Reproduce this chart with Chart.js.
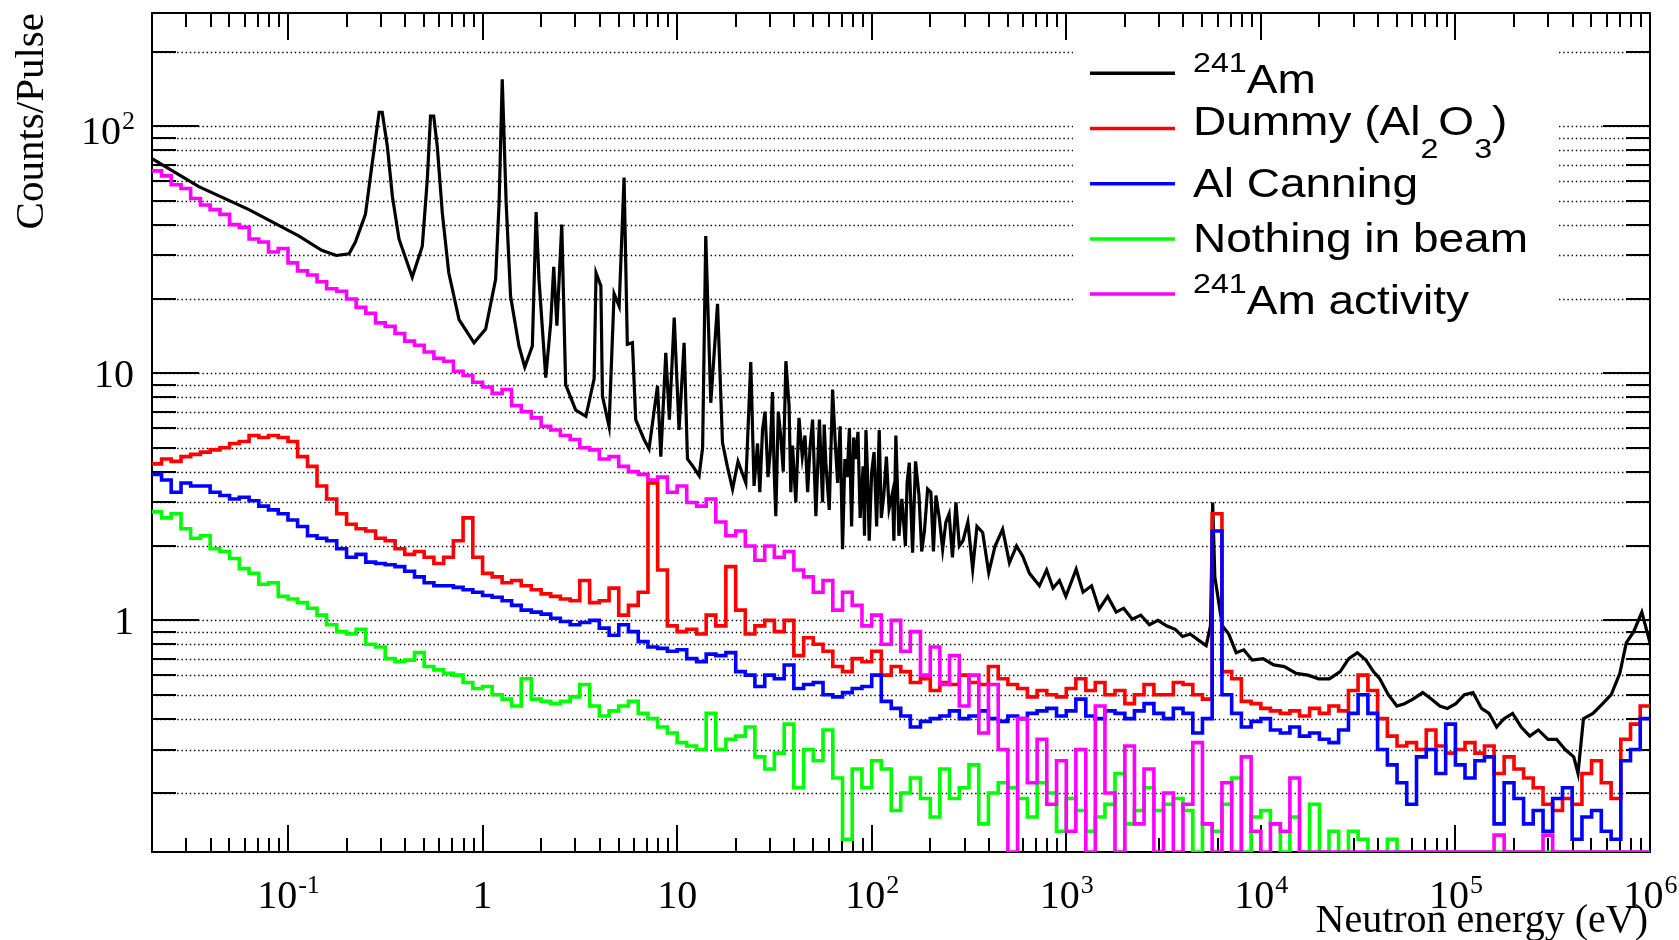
<!DOCTYPE html>
<html>
<head>
<meta charset="utf-8">
<title>Counts/Pulse vs neutron energy</title>
<script src="https://cdn.jsdelivr.net/npm/chart.js@4.4.1/dist/chart.umd.min.js"></script>
<style>
  html, body { margin: 0; padding: 0; background: #ffffff; }
  #wrap { width: 1679px; height: 940px; }
</style>
</head>
<body>
<div id="wrap"><canvas id="chart" width="1679" height="940"></canvas></div>
<script>
// Energy bin edges (eV), 20 per decade, shared by the four noisy histograms
const E_GRID = [
  0.02, 0.0224, 0.0251, 0.0282, 0.0316, 0.0355, 0.0398, 0.0447, 0.0501, 0.0562, 0.0631, 0.0708, 0.0794, 0.0891,
  0.1, 0.112, 0.126, 0.141, 0.158, 0.178, 0.2, 0.224, 0.251, 0.282, 0.316, 0.355, 0.398, 0.447, 0.501, 0.562, 0.631, 0.708, 0.794, 0.891,
  1, 1.12, 1.26, 1.41, 1.58, 1.78, 2, 2.24, 2.51, 2.82, 3.16, 3.55, 3.98, 4.47, 5.01, 5.62, 6.31, 7.08, 7.94, 8.91,
  10, 11.2, 12.6, 14.1, 15.8, 17.8, 20, 22.4, 25.1, 28.2, 31.6, 35.5, 39.8, 44.7, 50.1, 56.2, 63.1, 70.8, 79.4, 89.1,
  100, 112, 126, 141, 158, 178, 200, 224, 251, 282, 316, 355, 398, 447, 501, 562, 631, 708, 794, 891,
  1000, 1120, 1260, 1410, 1580, 1780, 2000, 2240, 2510, 2820, 3160, 3550, 3980, 4470, 5010, 5620, 6310, 7080, 7940, 8910,
  1e4, 11200, 12600, 14100, 15800, 17800, 20000, 22400, 25100, 28200, 31600, 35500, 39800, 44700, 50100, 56200, 63100, 70800, 79400, 89100,
  1e5, 112000, 126000, 141000, 158000, 178000, 200000, 224000, 251000, 282000, 316000, 355000, 398000, 447000, 501000, 562000, 631000, 708000, 794000, 891000,
  1e6
];

// 241Am sample (fine structure, own energy points)
const AM_E = [
  0.0200, 0.0348, 0.0630, 0.1135, 0.149, 0.177, 0.206, 0.222, 0.250, 0.271,
  0.294, 0.305, 0.324, 0.344, 0.372, 0.435, 0.490, 0.520, 0.540, 0.561,
  0.585, 0.621, 0.670, 0.757, 0.904, 1.037, 1.167, 1.216, 1.262, 1.322,
  1.393, 1.538, 1.648, 1.802, 1.884, 1.950, 2.112, 2.240, 2.321, 2.410,
  2.553, 2.673, 3.011, 3.397, 3.744, 3.830, 4.055, 4.131, 4.467, 4.742,
  5.035, 5.336, 5.546, 5.891, 6.124, 6.761, 7.171, 7.925, 8.244, 8.743,
  9.12, 9.66, 10.23, 10.86, 11.30, 12.06, 12.97, 13.52, 14.03, 14.89,
  16.13, 17.10, 18.11, 19.27, 20.55, 22.54,
  23.9, 24.85, 25.9, 26.6, 27.47, 28.3, 29.31, 30.1, 30.9, 31.5,
  32.14, 33.1, 34.12, 35.1, 36.22, 37.6, 38.4, 39.17, 40.74, 42.3,
  43.97, 45.4, 46.84, 48.2, 49.67, 51.65, 53.86, 55.9, 57.0, 58.1,
  60.5, 62.95, 64.8, 66.8, 68.8, 70.8, 72.8, 74.8, 76.8, 78.8,
  80.8, 82.9, 85.0, 87.2, 90.3, 91.8, 93.4, 95.2, 97.1, 100,
  102.8, 106, 109.3, 112, 115.3, 119, 122.8, 128, 130, 133.1,
  138, 142.9, 149, 152, 156.0, 162.2, 168, 175.0, 180.7, 186.6,
  193.8, 201.4, 207.6, 213.9, 222.5, 231.5, 240.5, 249.9, 260, 270.9,
  282, 294.5, 312, 330.3, 347.5, 371.7, 399.4,
  430.7, 470.9, 510.2, 554.9, 597, 646.9, 727.8, 792.5, 855, 922,
  995, 1124, 1219, 1349, 1475, 1632, 1806, 1972, 2183, 2416,
  2674, 2959, 3275, 3630, 3963, 4335, 4797, 5236, 5510, 5654,
  5800, 6339, 6839, 7467, 8166, 9036, 10260, 11640, 13210, 15200,
  17460, 19820, 22500, 25570, 28310, 31330, 34670, 37880, 40830, 45190,
  50020, 54690, 60530, 67920, 75150, 83170, 90840, 100500, 111200, 123100,
  136200, 148900, 162800, 177800, 196800, 217800, 241000, 266700, 299200, 331100,
  366400, 405500, 426600, 455000, 509300, 571200, 632000, 699800, 755100, 824300,
  907800, 1000000
];
const AM_Y = [
  74, 57, 46, 36, 31.5, 30, 30.5, 34, 44, 71,
  114, 114, 83, 52, 35, 24.5, 32.7, 61, 110, 110,
  83, 44.6, 25.6, 16.5, 13.3, 15.1, 24, 49, 155, 49,
  20.5, 12.9, 10.6, 12.9, 45, 24, 9.6, 16, 27, 15.6,
  40, 9, 7.1, 6.7, 9.5, 25.5, 22.6, 8.1, 6.1, 21,
  18.7, 62, 13.1, 13.3, 6.5, 5.4, 4.95, 8.9, 4.6, 12.1,
  6.5, 16.8, 5.9, 13.3, 4.5, 4.2, 3.85, 5, 36, 7.6,
  19.1, 5.25, 4.2, 3.4, 4.4, 3.6,
  11.1, 3.5, 5.2, 3.3, 5.9, 7.0, 3.8, 4.8, 8.4, 4.1,
  2.64, 7.0, 5.5, 4.0, 11.2, 7.4, 3.3, 5.1, 3.0, 6.6,
  4.6, 5.6, 3.3, 5.0, 6.5, 2.64, 6.5, 3.0, 6.2, 4.35,
  2.8, 8.6, 5.4, 3.6, 6.1, 1.94, 4.5, 3.8, 6.0, 2.4,
  5.5, 4.5, 5.8, 2.6, 4.2, 2.2, 5.9, 3.9, 2.1, 4.0,
  4.8, 2.4, 5.9, 2.6, 3.2, 4.6, 2.83, 3.3, 2.1, 5.6,
  2.2, 3.1, 2.0, 3.6, 4.35, 1.88, 4.4, 3.2, 1.9, 2.3,
  3.4, 3.3, 1.9, 3.2, 2.6, 1.94, 2.5, 2.7, 1.8, 3.0,
  2.0, 2.1, 2.5, 1.61, 2.4, 2.27, 1.56,
  2.0, 2.34, 1.71, 2.0, 1.82, 1.55, 1.38, 1.6, 1.35, 1.45,
  1.25, 1.61, 1.3, 1.38, 1.11, 1.25, 1.08, 1.12, 1.01, 1.05,
  0.96, 1.0, 0.95, 0.92, 0.86, 0.88, 0.83, 0.79, 0.95, 3.0,
  1.5, 0.95, 0.88, 0.74, 0.76, 0.69, 0.70, 0.66, 0.65, 0.61,
  0.60, 0.58, 0.58, 0.62, 0.70, 0.74, 0.69, 0.62, 0.58, 0.50,
  0.45, 0.46, 0.48, 0.51, 0.48, 0.45, 0.44, 0.46, 0.50, 0.51,
  0.44, 0.42, 0.37, 0.40, 0.42, 0.37, 0.34, 0.36, 0.33, 0.33,
  0.30, 0.28, 0.24, 0.40, 0.42, 0.46, 0.50, 0.61, 0.81, 0.90,
  1.08, 0.81
];

// Dummy (Al2O3), one value per E_GRID bin (0 = empty bin)
const DUMMY_Y = [
  4.3, 4.5, 4.4, 4.6, 4.7, 4.8, 4.9, 5.0, 5.2, 5.3,
  5.6, 5.5, 5.6, 5.5, 5.3, 4.6, 4.2, 3.5, 3.1, 2.7,
  2.45, 2.35, 2.3, 2.15, 2.1, 1.95, 1.85, 1.9, 1.8, 1.7,
  1.8, 2.1, 2.6, 1.8, 1.55, 1.5, 1.42, 1.45, 1.38, 1.33,
  1.28, 1.25, 1.22, 1.2, 1.45, 1.18, 1.2, 1.35, 1.05, 1.15,
  1.3, 3.6, 1.6, 0.95, 0.9, 0.92, 0.88, 1.05, 0.95, 1.65,
  1.1, 0.88, 0.95, 1.0, 0.9, 1.0, 0.72, 0.85, 0.8, 0.75,
  0.65, 0.62, 0.7, 0.68, 0.75, 0.6, 0.65, 0.62, 0.56, 0.58,
  0.52, 0.56, 0.55, 0.6, 0.56, 0.55, 0.65, 0.58, 0.55, 0.53,
  0.49, 0.52, 0.5, 0.49, 0.53, 0.58, 0.52, 0.56, 0.5, 0.52,
  0.46, 0.5, 0.55, 0.5, 0.5, 0.56, 0.55, 0.5, 0.48, 2.7,
  0.62, 0.58, 0.47, 0.46, 0.44, 0.43, 0.42, 0.43, 0.41, 0.44,
  0.42, 0.45, 0.43, 0.52, 0.6, 0.52, 0.4, 0.34, 0.31, 0.32,
  0.3, 0.36, 0.31, 0.29, 0.3, 0.32, 0.29, 0.31, 0.24, 0.28,
  0.25, 0.23, 0.21, 0.18, 0.17, 0.19, 0.18, 0.24, 0.27, 0.22,
  0.19, 0.33, 0.38, 0.45
];

// Al canning
const CANNING_Y = [
  3.9, 3.7, 3.3, 3.6, 3.5, 3.5, 3.3, 3.2, 3.1, 3.15,
  3.05, 2.9, 2.8, 2.7, 2.55, 2.4, 2.2, 2.15, 2.1, 1.95,
  1.8, 1.85, 1.72, 1.7, 1.68, 1.65, 1.58, 1.5, 1.42, 1.38,
  1.38, 1.36, 1.33, 1.3, 1.26, 1.24, 1.2, 1.15, 1.1, 1.08,
  1.06, 1.02, 0.99, 0.96, 0.98, 1.0, 0.93, 0.87, 0.96, 0.9,
  0.82, 0.78, 0.77, 0.75, 0.76, 0.7, 0.68, 0.73, 0.72, 0.74,
  0.62, 0.6, 0.54, 0.6, 0.58, 0.66, 0.53, 0.55, 0.56, 0.5,
  0.49, 0.51, 0.53, 0.54, 0.6, 0.47, 0.44, 0.41, 0.37, 0.39,
  0.4, 0.41, 0.43, 0.4, 0.41, 0.43, 0.4, 0.39, 0.41, 0.4,
  0.42, 0.43, 0.44, 0.41, 0.43, 0.48, 0.41, 0.4, 0.43, 0.42,
  0.4, 0.43, 0.46, 0.42, 0.4, 0.44, 0.42, 0.35, 0.4, 2.3,
  0.5, 0.42, 0.37, 0.39, 0.4, 0.36, 0.35, 0.37, 0.34, 0.35,
  0.33, 0.32, 0.36, 0.42, 0.5, 0.42, 0.3, 0.26, 0.22, 0.18,
  0.28, 0.3, 0.24, 0.38, 0.26, 0.23, 0.27, 0.28, 0.15, 0.22,
  0.19, 0.15, 0.17, 0.14, 0.19, 0.21, 0.13, 0.16, 0.17, 0.14,
  0.13, 0.27, 0.3, 0.4
];

// Nothing in beam
const EMPTY_Y = [
  2.75, 2.6, 2.7, 2.35, 2.15, 2.2, 1.95, 1.9, 1.78, 1.62,
  1.55, 1.4, 1.42, 1.25, 1.22, 1.18, 1.12, 1.05, 0.96, 0.9,
  0.88, 0.92, 0.8, 0.78, 0.7, 0.68, 0.69, 0.74, 0.65, 0.63,
  0.61, 0.6, 0.56, 0.53, 0.54, 0.5, 0.48, 0.45, 0.58, 0.48,
  0.47, 0.46, 0.47, 0.49, 0.55, 0.45, 0.41, 0.43, 0.45, 0.47,
  0.42, 0.4, 0.37, 0.35, 0.32, 0.31, 0.3, 0.42, 0.3, 0.33,
  0.34, 0.37, 0.28, 0.25, 0.29, 0.38, 0.21, 0.3, 0.27, 0.36,
  0.23, 0.13, 0.25, 0.21, 0.27, 0.25, 0.17, 0.2, 0.23, 0.19,
  0.16, 0.25, 0.19, 0.21, 0.26, 0.15, 0.2, 0.22, 0.21, 0.19,
  0.16, 0.22, 0.2, 0.14, 0.19, 0.17, 0.14, 0.16, 0.18, 0.24,
  0.15, 0.17, 0.21, 0.17, 0.18, 0.19, 0.17, 0, 0.15, 0.14,
  0.18, 0.23, 0, 0.16, 0.17, 0.15, 0, 0.16, 0, 0.18,
  0, 0.14, 0, 0.14, 0.13, 0, 0, 0.13, 0, 0,
  0, 0, 0, 0, 0, 0, 0, 0, 0, 0,
  0, 0, 0, 0, 0, 0, 0, 0, 0, 0,
  0, 0, 0, 0
];

// 241Am activity (no beam)
const ACTIVITY_Y = [
  66, 63, 58, 56, 51, 48, 46, 44, 40, 39,
  35, 34, 31, 32, 28, 26, 25, 23.5, 22, 21.5,
  20, 18.5, 17.5, 16, 15.5, 14.5, 13.5, 13, 12.2, 11.5,
  11.2, 10.2, 9.8, 9.2, 8.8, 8.3, 8.6, 7.4, 7.0, 6.6,
  6.1, 5.9, 5.6, 5.4, 5.0, 4.9, 4.5, 4.6, 4.2, 4.0,
  3.9, 3.7, 3.8, 3.3, 3.5, 3.0, 2.9, 3.1, 2.5, 2.2,
  2.3, 2.0, 1.75, 2.0, 1.8, 1.9, 1.6, 1.5, 1.3, 1.45,
  1.1, 1.3, 1.15, 0.95, 1.05, 0.8, 1.0, 0.75, 0.9, 0.6,
  0.78, 0.55, 0.72, 0.45, 0.6, 0.35, 0.55, 0.3, 0, 0.4,
  0.22, 0.33, 0.18, 0.27, 0.14, 0.3, 0, 0.45, 0.2, 0,
  0.31, 0.15, 0.25, 0, 0.2, 0, 0.18, 0.32, 0.15, 0,
  0.22, 0, 0.28, 0.14, 0, 0.15, 0.14, 0.23, 0, 0,
  0, 0, 0, 0, 0, 0, 0, 0, 0, 0,
  0, 0, 0, 0, 0, 0, 0, 0, 0.135, 0,
  0, 0, 0, 0.135, 0, 0, 0, 0, 0, 0,
  0, 0, 0, 0
];

const SERIES_LABELS = ["^{241}Am", "Dummy (Al_{2}O_{3})", "Al Canning", "Nothing in beam", "^{241}Am activity"];
const SERIES_COLORS = ["#000000", "#ff0000", "#0000ff", "#00ff00", "#ff00ff"];

// axes
const X_MIN = 0.02, X_MAX = 1e6;
const Y_MIN = 0.1154, Y_MAX = 287.6;
const X_MAJOR = [0.1, 1, 10, 100, 1e3, 1e4, 1e5, 1e6];
const X_TICK_LABELS = ["10^-1", "1", "10", "10^2", "10^3", "10^4", "10^5", "10^6"];
const Y_MAJOR = [1, 10, 100];
const Y_TICK_LABELS = ["1", "10", "10^2"];
const MINOR_STEPS = [2, 3, 4, 5, 6, 7, 8, 9];
const X_TITLE = "Neutron energy (eV)";
const Y_TITLE = "Counts/Pulse";

const SERIF = '"Liberation Serif", "Times New Roman", serif';
const SANS = '"Liberation Sans", Arial, sans-serif';

function minorTicks(lo, hi) {
  const out = [];
  for (let d = Math.floor(Math.log10(lo)); d <= Math.ceil(Math.log10(hi)); d++) {
    for (const m of MINOR_STEPS) {
      const v = m * Math.pow(10, d);
      if (v > lo && v < hi) out.push(v);
    }
  }
  return out;
}

function histPoints(edges, values) {
  // histogram: value i holds from edges[i] to edges[i+1]; empty bins sit on the floor
  return edges.map((e, i) => ({ x: e, y: values[Math.min(i, values.length - 1)] || Y_MIN }));
}

function drawTickLabel(ctx, text, x, y, align) {
  const [base, exp] = text.split("^");
  const size = 40, es = 26;
  ctx.font = `${size}px ${SERIF}`;
  const wb = ctx.measureText(base).width;
  let we = 0;
  if (exp) { ctx.font = `${es}px ${SERIF}`; we = ctx.measureText(exp).width; }
  const x0 = align === "right" ? x - wb - we : x - (wb + we) / 2;
  ctx.font = `${size}px ${SERIF}`;
  ctx.fillText(base, x0, y);
  if (exp) {
    ctx.font = `${es}px ${SERIF}`;
    ctx.fillText(exp, x0 + wb + 1, y - 15);
  }
}

function richSegments(label) {
  const out = [];
  const re = /([\^_])\{([^}]*)\}|([^\^_]+)/g;
  let m;
  while ((m = re.exec(label))) {
    if (m[3]) out.push({ t: m[3], mode: "" });
    else out.push({ t: m[2], mode: m[1] });
  }
  return out;
}

function drawRich(ctx, label, x, baseline) {
  const size = 40, stretch = 1.15;
  let cx = x;
  for (const seg of richSegments(label)) {
    const s = seg.mode ? 28 : size;
    const dy = seg.mode === "^" ? -21.6 : seg.mode === "_" ? 22.4 : 0;
    ctx.font = `${s}px ${SANS}`;
    ctx.save();
    ctx.translate(cx, baseline + dy);
    ctx.scale(stretch, 1);
    ctx.fillText(seg.t, 0, 0);
    ctx.restore();
    cx += ctx.measureText(seg.t).width * stretch;
  }
}

const rootFrame = {
  id: "rootFrame",
  beforeDatasetsDraw(chart) {
    const { ctx, chartArea: a, scales: { x, y } } = chart;
    const yMinor = minorTicks(Y_MIN, Y_MAX);
    const xMinor = minorTicks(X_MIN, X_MAX);
    ctx.save();

    // dotted horizontal grid
    ctx.strokeStyle = "#000";
    ctx.lineWidth = 1.3;
    ctx.setLineDash([1.4, 2.8]);
    for (const v of [...Y_MAJOR, ...yMinor]) {
      const py = Math.round(y.getPixelForValue(v)) + 0.5;
      ctx.beginPath(); ctx.moveTo(a.left, py); ctx.lineTo(a.right, py); ctx.stroke();
    }
    ctx.setLineDash([]);

    // legend box (white, no border)
    ctx.fillStyle = "#fff";
    ctx.fillRect(1073, 45, 484, 282);

    // frame
    ctx.strokeStyle = "#000";
    ctx.lineWidth = 2;
    ctx.strokeRect(a.left, a.top, a.right - a.left, a.bottom - a.top);

    // y ticks, both sides
    const yt = (v, len) => {
      const py = Math.round(y.getPixelForValue(v));
      ctx.beginPath();
      ctx.moveTo(a.left, py); ctx.lineTo(a.left + len, py);
      ctx.moveTo(a.right, py); ctx.lineTo(a.right - len, py);
      ctx.stroke();
    };
    Y_MAJOR.forEach(v => yt(v, 47));
    yMinor.forEach(v => yt(v, 24));

    // x ticks, bottom and top
    const xt = (v, len) => {
      const px = Math.round(x.getPixelForValue(v));
      ctx.beginPath();
      ctx.moveTo(px, a.bottom); ctx.lineTo(px, a.bottom - len);
      ctx.moveTo(px, a.top); ctx.lineTo(px, a.top + len);
      ctx.stroke();
    };
    X_MAJOR.forEach(v => xt(v, 27));
    xMinor.forEach(v => xt(v, 14));

    // tick labels
    ctx.fillStyle = "#000";
    ctx.textAlign = "left";
    ctx.textBaseline = "alphabetic";
    X_MAJOR.forEach((v, i) => drawTickLabel(ctx, X_TICK_LABELS[i], x.getPixelForValue(v), a.bottom + 56, "center"));
    Y_MAJOR.forEach((v, i) => {
      const lbl = Y_TICK_LABELS[i];
      const py = y.getPixelForValue(v) + (lbl.includes("^") ? 18 : 14);
      drawTickLabel(ctx, lbl, 134, py, "right");
    });

    // axis titles
    ctx.font = `40px ${SERIF}`;
    ctx.textAlign = "right";
    ctx.fillText(X_TITLE, a.right - 2, 932);
    ctx.save();
    ctx.translate(43, a.top);
    ctx.rotate(-Math.PI / 2);
    ctx.font = `41px ${SERIF}`;
    ctx.textAlign = "right";
    ctx.fillText(Y_TITLE, 0, 0);
    ctx.restore();

    ctx.restore();
  },
  afterDatasetsDraw(chart) {
    const { ctx } = chart;
    ctx.save();
    ctx.textAlign = "left";
    ctx.textBaseline = "alphabetic";
    ctx.fillStyle = "#000";
    SERIES_LABELS.forEach((lbl, i) => {
      const ly = 73.3 + 55.2 * i;
      ctx.strokeStyle = SERIES_COLORS[i];
      ctx.lineWidth = 3.5;
      ctx.beginPath(); ctx.moveTo(1090, ly); ctx.lineTo(1175, ly); ctx.stroke();
      const off = lbl.includes("^") ? 20 : lbl.includes("_") ? 6.8 : 13.5;
      drawRich(ctx, lbl, 1193, ly + off);
    });
    ctx.restore();
  }
};

const common = {
  fill: false,
  tension: 0,
  pointRadius: 0,
  pointHoverRadius: 0,
  borderWidth: 3.6,
  borderJoinStyle: "miter",
  borderCapStyle: "butt",
};

new Chart(document.getElementById("chart"), {
  type: "line",
  data: {
    datasets: [
      { ...common, label: SERIES_LABELS[4], data: histPoints(E_GRID, ACTIVITY_Y), borderColor: SERIES_COLORS[4], stepped: true, order: 1 },
      { ...common, label: SERIES_LABELS[3], data: histPoints(E_GRID, EMPTY_Y), borderColor: SERIES_COLORS[3], stepped: true, order: 2 },
      { ...common, label: SERIES_LABELS[2], data: histPoints(E_GRID, CANNING_Y), borderColor: SERIES_COLORS[2], stepped: true, order: 3 },
      { ...common, label: SERIES_LABELS[1], data: histPoints(E_GRID, DUMMY_Y), borderColor: SERIES_COLORS[1], stepped: true, order: 4 },
      { ...common, label: SERIES_LABELS[0], data: AM_E.map((e, i) => ({ x: e, y: AM_Y[i] })), borderColor: SERIES_COLORS[0], borderWidth: 3.2, order: 5 },
    ],
  },
  options: {
    responsive: false,
    animation: false,
    devicePixelRatio: 1,
    events: [],
    layout: { padding: { left: 152, right: 29, top: 13, bottom: 88 } },
    plugins: {
      legend: { display: false },
      tooltip: { enabled: false },
    },
    scales: {
      x: { type: "logarithmic", min: X_MIN, max: X_MAX, bounds: "data", display: false },
      y: { type: "logarithmic", min: Y_MIN, max: Y_MAX, bounds: "data", display: false },
    },
  },
  plugins: [rootFrame],
});
</script>
</body>
</html>
